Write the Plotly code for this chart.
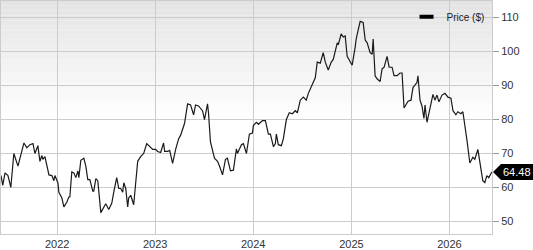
import pandas as pd
import plotly.graph_objects as go

# time (decimal years) and closing price
years = [2021.427, 2021.445, 2021.468, 2021.498, 2021.527, 2021.558, 2021.600, 2021.640, 2021.661, 2021.691,
         2021.722, 2021.753, 2021.773, 2021.803, 2021.824, 2021.844, 2021.854, 2021.875, 2021.905, 2021.916,
         2021.946, 2021.966, 2021.977, 2022.007, 2022.017, 2022.048, 2022.068, 2022.099, 2022.119, 2022.129,
         2022.149, 2022.170, 2022.190, 2022.211, 2022.221, 2022.241, 2022.272, 2022.292, 2022.312, 2022.333,
         2022.363, 2022.373, 2022.394, 2022.414, 2022.445, 2022.475, 2022.495, 2022.526, 2022.557, 2022.577,
         2022.607, 2022.628, 2022.648, 2022.668, 2022.679, 2022.699, 2022.719, 2022.729, 2022.750, 2022.780,
         2022.790, 2022.821, 2022.851, 2022.882, 2022.913, 2022.933, 2022.974, 2023.004, 2023.024, 2023.055,
         2023.085, 2023.096, 2023.126, 2023.147, 2023.177, 2023.208, 2023.238, 2023.259, 2023.289, 2023.299,
         2023.330, 2023.360, 2023.391, 2023.411, 2023.441, 2023.482, 2023.502, 2023.533, 2023.543, 2023.563,
         2023.604, 2023.635, 2023.655, 2023.686, 2023.716, 2023.736, 2023.767, 2023.797, 2023.828, 2023.838,
         2023.879, 2023.899, 2023.930, 2023.960, 2023.991, 2024.001, 2024.032, 2024.052, 2024.093, 2024.123,
         2024.154, 2024.174, 2024.205, 2024.225, 2024.235, 2024.255, 2024.286, 2024.306, 2024.337, 2024.367,
         2024.398, 2024.428, 2024.449, 2024.479, 2024.510, 2024.540, 2024.561, 2024.601, 2024.632, 2024.652,
         2024.683, 2024.713, 2024.734, 2024.764, 2024.795, 2024.815, 2024.856, 2024.866, 2024.896, 2024.917,
         2024.937, 2024.957, 2024.988, 2025.008, 2025.039, 2025.049, 2025.069, 2025.090, 2025.120, 2025.141,
         2025.161, 2025.191, 2025.212, 2025.222, 2025.242, 2025.262, 2025.293, 2025.313, 2025.334, 2025.364,
         2025.385, 2025.415, 2025.435, 2025.466, 2025.496, 2025.517, 2025.537, 2025.557, 2025.578, 2025.608,
         2025.628, 2025.669, 2025.679, 2025.700, 2025.720, 2025.740, 2025.751, 2025.771, 2025.802, 2025.832,
         2025.852, 2025.873, 2025.893, 2025.924, 2025.954, 2025.985, 2026.015, 2026.036, 2026.066, 2026.086,
         2026.117, 2026.137, 2026.178, 2026.208, 2026.239, 2026.259, 2026.290, 2026.310, 2026.340, 2026.361,
         2026.381, 2026.401, 2026.432]

prices = [63.4, 60.5, 64.2, 63.4, 59.9, 69.9, 66.2, 71.1, 73.0, 71.6,
          72.5, 72.8, 69.9, 72.2, 67.6, 69.3, 68.2, 69.0, 65.3, 63.6,
          63.4, 61.9, 63.4, 61.3, 58.5, 56.8, 54.2, 55.6, 57.1, 57.1,
          64.5, 64.2, 62.8, 64.8, 62.8, 67.9, 68.5, 66.2, 62.2, 62.2,
          58.8, 58.8, 62.5, 61.9, 52.5, 53.9, 55.1, 53.4, 55.3, 58.5,
          62.8, 59.6, 59.6, 58.5, 61.3, 59.6, 54.2, 56.8, 57.6, 54.8,
          57.6, 67.6, 69.0, 69.9, 72.8, 72.2, 71.1, 71.1, 70.5, 70.2,
          73.0, 70.5, 70.5, 70.8, 67.0, 71.1, 74.2, 75.3, 78.2, 78.8,
          84.5, 84.2, 81.3, 84.2, 83.9, 82.5, 79.9, 84.5, 81.9, 73.3,
          68.5, 67.6, 66.2, 63.6, 68.2, 68.5, 64.8, 65.0, 71.3, 69.9,
          72.5, 72.8, 69.9, 75.6, 75.9, 78.2, 79.1, 78.5, 79.6, 79.6,
          75.6, 75.6, 71.9, 72.8, 75.6, 72.5, 72.2, 74.2, 79.9, 81.9,
          81.6, 82.5, 81.9, 85.6, 86.5, 85.6, 87.6, 90.5, 92.2, 96.8,
          96.5, 99.6, 96.8, 94.5, 96.8, 97.6, 102.5, 101.9, 105.1, 104.2,
          104.5, 98.5, 97.1, 95.9, 101.3, 103.6, 106.2, 108.8, 108.5, 103.3,
          102.5, 99.6, 99.1, 103.6, 92.8, 91.9, 91.1, 94.8, 95.3, 98.5,
          95.3, 95.3, 92.8, 92.8, 93.6, 93.6, 83.3, 84.5, 85.3, 85.6,
          89.3, 90.8, 92.8, 85.6, 83.9, 80.2, 84.2, 79.1, 83.3, 87.3,
          85.6, 87.1, 85.1, 87.1, 87.6, 86.5, 86.2, 82.5, 81.3, 82.2,
          81.6, 82.2, 73.9, 67.1, 68.8, 68.2, 71.1, 67.1, 61.9, 61.3,
          63.4, 62.8, 64.48]

series_name = "Price ($)"
year_ticks = [2022, 2023, 2024, 2025, 2026]
y_ticks = [50, 60, 70, 80, 90, 100, 110]

base = pd.Timestamp("2022-01-01")
dates = [base + pd.Timedelta(days=(y - 2022) * 365.25) for y in years]
tick_dates = [pd.Timestamp(f"{y}-01-01") for y in year_ticks]

fig = go.Figure()
fig.add_trace(go.Scatter(x=dates, y=prices, mode="lines", showlegend=False,
                         line=dict(color="#1a1a1a", width=1.2)))
fig.add_trace(go.Scatter(x=[None], y=[None], mode="markers", name=series_name,
                         marker=dict(symbol="line-ew-open", size=10, color="#000",
                                     line=dict(color="#000", width=4))))

# gradient background bands
nb = 24
shapes = []
for i in range(nb):
    t = i / nb
    c = int(round(0xe4 + (0xff - 0xe4) * t))
    shapes.append(dict(type="rect", xref="paper", yref="paper", x0=0, x1=1,
                       y0=1 - 0.5 * (i + 1) / nb, y1=1 - 0.5 * i / nb,
                       fillcolor=f"rgb({c},{c},{c})", line=dict(width=0), layer="below"))

last_val = prices[-1]
shapes.append(dict(type="path", xref="paper", yref="y", xsizemode="pixel", ysizemode="pixel",
                   xanchor=1, yanchor=last_val,
                   path="M1,0 L9,8 L45,8 L45,-8 L9,-8 Z",
                   fillcolor="#000", line=dict(width=0)))

fig.update_layout(
    width=533, height=250,
    margin=dict(l=0, r=41, t=0, b=10),
    paper_bgcolor="white", plot_bgcolor="white",
    font=dict(family="Liberation Sans, Arial, sans-serif", size=11, color="#333"),
    shapes=shapes,
    legend=dict(x=0.995, y=0.995, xanchor="right", yanchor="top",
                bgcolor="rgba(0,0,0,0)", font=dict(size=10, color="#222"),
                itemwidth=30, tracegroupgap=0),
    annotations=[dict(xref="paper", yref="y", x=1, y=last_val, xanchor="left", yanchor="middle",
                      xshift=9, text=f"{last_val:.2f}", showarrow=False,
                      font=dict(color="white", size=11))],
)
fig.update_xaxes(range=[base + pd.Timedelta(days=(2021.427 - 2022) * 365.25),
                        base + pd.Timedelta(days=(2026.434 - 2022) * 365.25)],
                 tickvals=tick_dates, ticktext=[str(y) for y in year_ticks],
                 showgrid=True, gridcolor="#cccccc", gridwidth=1,
                 showline=True, linecolor="#cccccc", mirror=True, ticks="", zeroline=False)
fig.update_yaxes(range=[46.2, 114.8], side="right", tickvals=y_ticks,
                 showgrid=True, gridcolor="#cccccc", gridwidth=1,
                 ticks="outside", ticklen=6, tickcolor="#999",
                 showline=True, linecolor="#cccccc", mirror=True, zeroline=False)

fig.write_html("out.html")
